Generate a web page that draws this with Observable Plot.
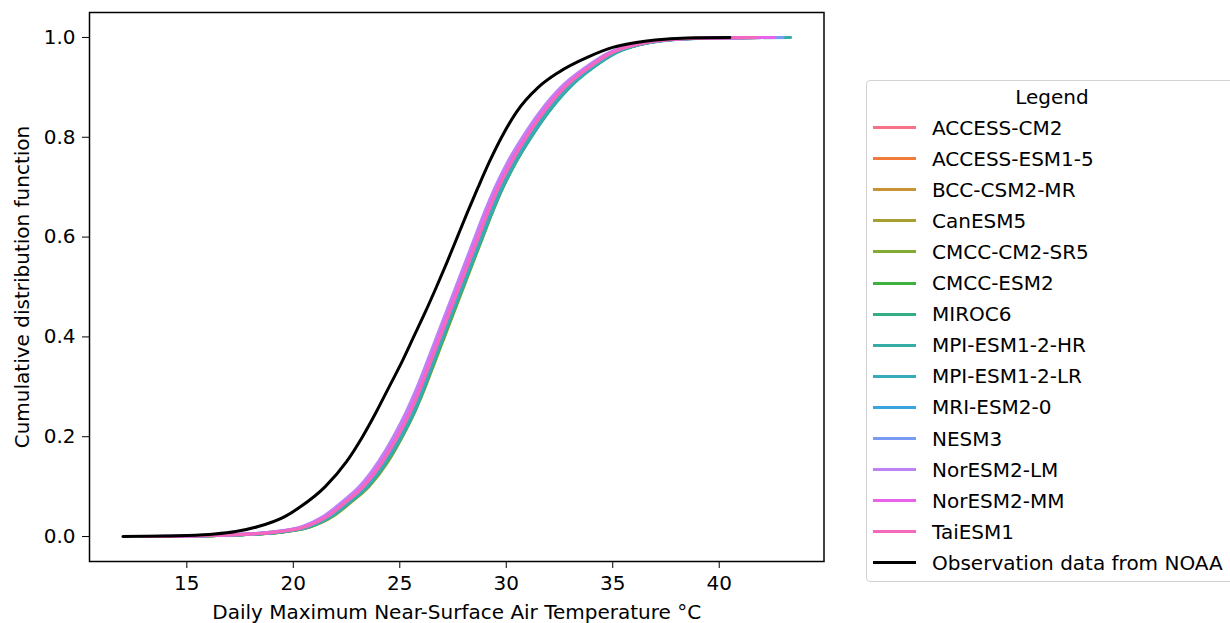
<!DOCTYPE html>
<html>
<head>
<meta charset="utf-8">
<script src="https://cdn.jsdelivr.net/npm/d3@7"></script>
<script src="https://cdn.jsdelivr.net/npm/@observablehq/plot@0.6"></script>
<style>
  html, body { margin: 0; padding: 0; background: #fff; overflow: hidden; }
  #wrap { position: relative; width: 1230px; height: 623px; overflow: hidden; font-family: "DejaVu Sans", sans-serif; }
  #legend { position: absolute; left: 866px; top: 80px; width: 372px; height: 502px; box-sizing: border-box;
            border: 1px solid #d3d3d3; border-radius: 4px; background: #fff; font-size: 20px; color: #000; }
  #legend .title { position: absolute; left: 0; right: 0; top: 4px; text-align: center; line-height: 24px; }
  #legend .row { position: absolute; left: 0; height: 24px; line-height: 24px; white-space: nowrap; }
  #legend .sw { position: absolute; left: 6px; top: 10.5px; width: 43px; height: 3px; }
  #legend .lbl { position: absolute; left: 65px; top: 0; }
</style>
</head>
<body>
<div id="wrap"></div>
<script>
// Cumulative probability levels at which each model's temperature quantiles are listed
const cdfLevels = [0, 0.002, 0.005, 0.01, 0.02, 0.04, 0.07, 0.1, 0.15, 0.2, 0.25, 0.3, 0.35, 0.4, 0.45,
                   0.5, 0.55, 0.6, 0.65, 0.7, 0.75, 0.8, 0.85, 0.9, 0.94, 0.97, 0.99, 0.998, 1];

const modelNames = ["ACCESS-CM2", "ACCESS-ESM1-5", "BCC-CSM2-MR", "CanESM5", "CMCC-CM2-SR5", "CMCC-ESM2",
                    "MIROC6", "MPI-ESM1-2-HR", "MPI-ESM1-2-LR", "MRI-ESM2-0", "NESM3", "NorESM2-LM",
                    "NorESM2-MM", "TaiESM1"];
const modelColors = ["#f77189", "#f17c3a", "#c89433", "#a89f31", "#83aa31", "#3fb141", "#34af85",
                     "#36ada4", "#38aabc", "#3ba4dc", "#7a9bf4", "#bd82f4", "#eb62ea", "#f668bc"];

// Daily maximum near-surface air temperature (°C) at each cdf level
const accessCm2   = [13.4, 16.2, 18.1, 19.5, 20.65, 21.65, 22.55, 23.35, 24.25, 24.95, 25.55, 26.05, 26.5, 26.95, 27.4, 27.85, 28.3, 28.75, 29.2, 29.7, 30.3, 31.0, 31.8, 32.8, 33.95, 35.05, 36.6, 38.5, 41.2];
const accessEsm15 = [13.8, 16.3, 18.2, 19.55, 20.7, 21.7, 22.6, 23.4, 24.3, 25.0, 25.6, 26.1, 26.55, 27.0, 27.45, 27.9, 28.35, 28.8, 29.25, 29.75, 30.35, 31.05, 31.85, 32.85, 34.0, 35.1, 36.7, 38.7, 41.8];
const bccCsm2Mr   = [14.2, 16.4, 18.2, 19.6, 20.75, 21.75, 22.65, 23.45, 24.35, 25.05, 25.65, 26.15, 26.6, 27.05, 27.5, 27.95, 28.4, 28.85, 29.3, 29.8, 30.4, 31.1, 31.9, 32.9, 34.0, 35.1, 36.65, 38.5, 40.9];
const canEsm5     = [14.5, 16.5, 18.3, 19.7, 20.85, 21.85, 22.75, 23.55, 24.45, 25.12, 25.7, 26.2, 26.65, 27.1, 27.55, 28.0, 28.45, 28.9, 29.35, 29.85, 30.45, 31.15, 31.95, 32.95, 34.05, 35.15, 36.7, 38.7, 42.1];
const cmccCm2Sr5  = [14.0, 16.4, 18.25, 19.65, 20.8, 21.8, 22.7, 23.5, 24.4, 25.1, 25.68, 26.18, 26.63, 27.08, 27.52, 27.97, 28.42, 28.87, 29.32, 29.82, 30.42, 31.12, 31.92, 32.92, 34.02, 35.12, 36.7, 38.6, 41.5];
const cmccEsm2    = [13.9, 16.35, 18.2, 19.62, 20.78, 21.78, 22.68, 23.48, 24.38, 25.08, 25.66, 26.16, 26.62, 27.07, 27.52, 27.98, 28.43, 28.88, 29.34, 29.84, 30.44, 31.14, 31.94, 32.94, 34.05, 35.15, 36.7, 38.6, 41.0];
const miroc6      = [14.3, 16.45, 18.25, 19.65, 20.8, 21.8, 22.7, 23.5, 24.4, 25.1, 25.7, 26.18, 26.6, 27.05, 27.5, 27.96, 28.42, 28.88, 29.34, 29.85, 30.45, 31.17, 31.98, 32.98, 34.1, 35.2, 36.75, 38.8, 42.3];
const mpiEsm12Hr  = [14.1, 16.4, 18.2, 19.6, 20.75, 21.75, 22.65, 23.45, 24.35, 25.05, 25.65, 26.15, 26.58, 27.03, 27.48, 27.94, 28.4, 28.85, 29.31, 29.82, 30.43, 31.15, 31.96, 32.96, 34.08, 35.18, 36.75, 39.0, 43.35];
const mpiEsm12Lr  = [13.7, 16.3, 18.15, 19.55, 20.7, 21.7, 22.6, 23.4, 24.3, 25.0, 25.6, 26.1, 26.56, 27.0, 27.45, 27.9, 28.36, 28.82, 29.28, 29.78, 30.38, 31.08, 31.9, 32.9, 34.04, 35.12, 36.72, 38.8, 41.9];
const mriEsm20    = [13.2, 16.0, 17.9, 19.3, 20.5, 21.5, 22.42, 23.22, 24.12, 24.82, 25.42, 25.93, 26.38, 26.83, 27.28, 27.73, 28.18, 28.63, 29.08, 29.58, 30.18, 30.88, 31.7, 32.7, 33.85, 34.95, 36.55, 38.6, 42.0];
const nesm3       = [12.9, 15.9, 17.85, 19.25, 20.45, 21.47, 22.38, 23.18, 24.08, 24.78, 25.38, 25.9, 26.35, 26.8, 27.25, 27.7, 28.15, 28.6, 29.05, 29.55, 30.15, 30.85, 31.65, 32.65, 33.8, 34.9, 36.5, 38.8, 43.0];
const norEsm2Lm   = [12.8, 15.8, 17.8, 19.2, 20.4, 21.4, 22.3, 23.1, 24.0, 24.7, 25.3, 25.82, 26.28, 26.73, 27.18, 27.63, 28.08, 28.53, 28.98, 29.48, 30.06, 30.76, 31.56, 32.56, 33.72, 34.85, 36.45, 38.4, 41.6];
const norEsm2Mm   = [13.1, 16.0, 17.95, 19.35, 20.55, 21.55, 22.45, 23.25, 24.15, 24.85, 25.45, 25.95, 26.4, 26.85, 27.3, 27.75, 28.2, 28.65, 29.1, 29.6, 30.2, 30.9, 31.7, 32.7, 33.85, 34.95, 36.55, 38.6, 42.6];
const taiEsm1     = [13.0, 16.1, 18.0, 19.4, 20.6, 21.6, 22.5, 23.3, 24.2, 24.9, 25.5, 26.0, 26.45, 26.9, 27.35, 27.8, 28.25, 28.7, 29.15, 29.65, 30.25, 30.95, 31.75, 32.75, 33.9, 35.0, 36.6, 38.6, 41.7];

const modelTemps = [accessCm2, accessEsm15, bccCsm2Mr, canEsm5, cmccCm2Sr5, cmccEsm2, miroc6,
                    mpiEsm12Hr, mpiEsm12Lr, mriEsm20, nesm3, norEsm2Lm, norEsm2Mm, taiEsm1];

// NOAA station observations: empirical cdf
const obsName = "Observation data from NOAA";
const obsCdf  = [0, 0.001, 0.002, 0.005, 0.01, 0.02, 0.04, 0.06, 0.1, 0.15, 0.2, 0.25, 0.3, 0.35, 0.4, 0.45,
                 0.5, 0.55, 0.6, 0.65, 0.7, 0.75, 0.8, 0.85, 0.9, 0.93, 0.96, 0.98, 0.99, 0.995, 0.999, 1];
const obsTemp = [12.0, 14.0, 15.0, 16.3, 17.3, 18.35, 19.6, 20.35, 21.5, 22.5, 23.25, 23.9, 24.5, 25.1, 25.65, 26.2,
                 26.72, 27.22, 27.7, 28.18, 28.68, 29.2, 29.78, 30.47, 31.5, 32.45, 33.8, 35.0, 36.1, 37.0, 38.5, 40.5];

const xTicks = [15, 20, 25, 30, 35, 40];
const yTicks = [0, 0.2, 0.4, 0.6, 0.8, 1.0];

const modelRows = modelNames.flatMap((name, i) =>
  modelTemps[i].map((t, j) => ({model: name, temp: t, cdf: cdfLevels[j]})));
const obsRows = obsTemp.map((t, j) => ({temp: t, cdf: obsCdf[j]}));

const chart = Plot.plot({
  width: 1230,
  height: 623,
  marginLeft: 89,
  marginRight: 406.5,
  marginTop: 12,
  marginBottom: 62,
  style: {fontFamily: "DejaVu Sans, sans-serif", fontSize: "20px", color: "#000", background: "#fff"},
  x: {domain: [10.43, 44.92]},
  y: {domain: [-0.05, 1.05]},
  color: {domain: modelNames, range: modelColors},
  marks: [
    Plot.line(modelRows, {x: "temp", y: "cdf", z: "model", stroke: "model", strokeWidth: 3, curve: "monotone-x"}),
    Plot.line(obsRows, {x: "temp", y: "cdf", stroke: "#000", strokeWidth: 3, curve: "monotone-x"}),
    Plot.frame({stroke: "#000", strokeWidth: 1.5}),
    Plot.axisX({ticks: xTicks, tickSize: 7, tickPadding: 7, tickFormat: d3.format("d"),
                label: "Daily Maximum Near-Surface Air Temperature °C", labelAnchor: "center", labelArrow: "none", labelOffset: 57}),
    Plot.axisY({ticks: yTicks, tickSize: 7, tickPadding: 7, tickFormat: d3.format(".1f"),
                label: "Cumulative distribution function", labelAnchor: "center", labelArrow: "none", labelOffset: 75})
  ]
});

const wrap = document.getElementById("wrap");
wrap.appendChild(chart);

// Legend with line handles
const legend = document.createElement("div");
legend.id = "legend";
const title = document.createElement("div");
title.className = "title";
title.textContent = "Legend";
legend.appendChild(title);
const entries = modelNames.map((n, i) => ({name: n, color: modelColors[i]})).concat([{name: obsName, color: "#000"}]);
entries.forEach((e, i) => {
  const row = document.createElement("div");
  row.className = "row";
  row.style.top = (34.5 + 31.1 * i) + "px";
  const sw = document.createElement("div");
  sw.className = "sw";
  sw.style.background = e.color;
  const lbl = document.createElement("span");
  lbl.className = "lbl";
  lbl.textContent = e.name;
  row.appendChild(sw);
  row.appendChild(lbl);
  legend.appendChild(row);
});
wrap.appendChild(legend);
</script>
</body>
</html>
